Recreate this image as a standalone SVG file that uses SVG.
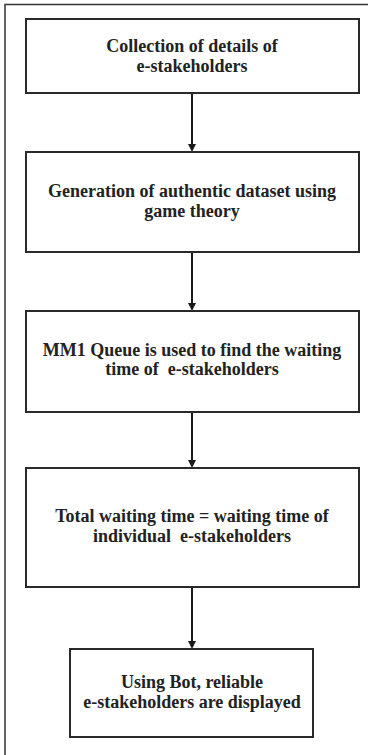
<svg xmlns="http://www.w3.org/2000/svg" width="368" height="755" viewBox="0 0 368 755">
<style>
.box{fill:#fff;stroke:#2a2a2a;stroke-width:2}
text{font-family:'Liberation Serif','Times New Roman',Times,serif;font-weight:bold;font-size:18px;fill:#222;text-anchor:middle}
.ln{stroke:#1a1a1a;stroke-width:2}
.hd{fill:#1a1a1a}
</style>
<rect width="368" height="755" fill="#fff"/>
<path d="M5,755 V4.5 H368" fill="none" stroke="#333" stroke-width="1.5"/>
<g id="connectors">
<path class="ln" d="M192,93 V146"/>
<path class="hd" d="M188,144 L196,144 L192,152 Z"/>
<path class="ln" d="M192,252 V305"/>
<path class="hd" d="M188,303 L196,303 L192,311 Z"/>
<path class="ln" d="M192,412 V462"/>
<path class="hd" d="M188,460 L196,460 L192,468 Z"/>
<path class="ln" d="M192,587 V643"/>
<path class="hd" d="M188,641 L196,641 L192,649 Z"/>
</g>
<g id="n1">
<rect class="box" x="26" y="19" width="333" height="74"/>
<text x="192" y="52">Collection of details of</text>
<text x="192" y="72">e-stakeholders</text>
</g>
<g id="n2">
<rect class="box" x="26" y="152" width="333" height="100"/>
<text x="192" y="197">Generation of authentic dataset using</text>
<text x="192" y="217">game theory</text>
</g>
<g id="n3">
<rect class="box" x="26" y="311" width="333" height="101"/>
<text x="192" y="356">MM1 Queue is used to find the waiting</text>
<text x="192" y="375" xml:space="preserve">time of  e-stakeholders</text>
</g>
<g id="n4">
<rect class="box" x="26" y="468" width="333" height="119"/>
<text x="192" y="522">Total waiting time = waiting time of</text>
<text x="192" y="542" xml:space="preserve">individual  e-stakeholders</text>
</g>
<g id="n5">
<rect class="box" x="70" y="649" width="243" height="88"/>
<text x="192" y="688">Using Bot, reliable</text>
<text x="192" y="708">e-stakeholders are displayed</text>
</g>
</svg>
